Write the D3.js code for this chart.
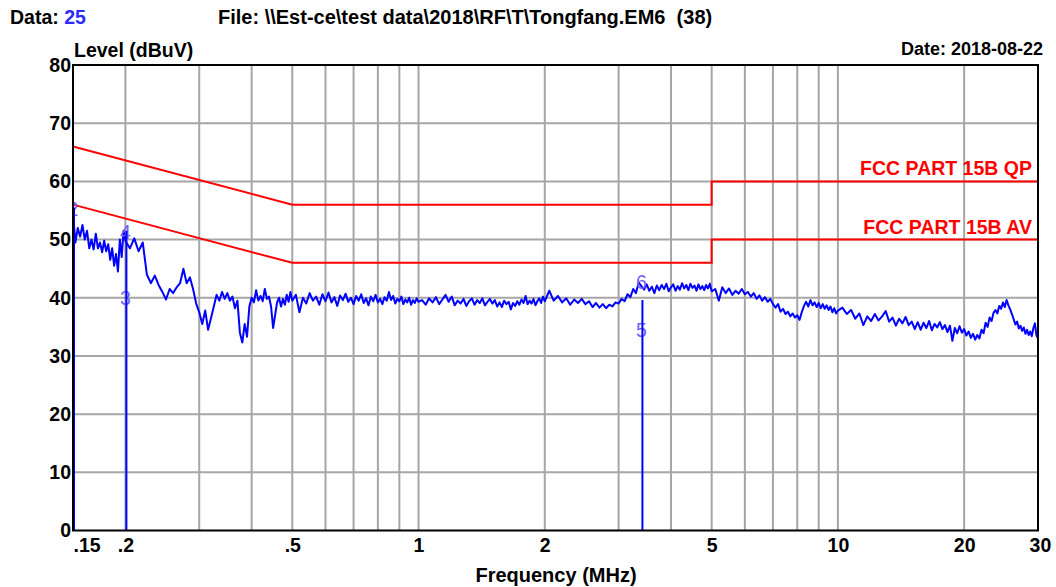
<!DOCTYPE html>
<html lang="en">
<head>
<meta charset="utf-8">
<title>Level (dBuV) vs Frequency (MHz)</title>
<script src="https://cdnjs.cloudflare.com/ajax/libs/d3/7.8.5/d3.min.js"></script>
<style>
  body { margin: 0; background: #fff; }
  text { font-family: "Liberation Sans", Arial, sans-serif; }
</style>
</head>
<body>
<script>
// measured sweep, MHz
var traceFreqs = [
  0.150,0.152,0.154,0.156,0.158,0.160,0.162,0.164,0.166,0.168,0.170,0.172,0.174,0.176,0.178,0.180,0.182,0.184,0.186,0.188,0.190,0.192,0.194,0.196,0.198,
  0.200,0.205,0.210,0.215,0.220,0.225,0.230,0.235,0.240,0.245,0.250,0.255,0.260,0.265,0.270,0.275,0.280,0.285,0.290,0.295,
  0.300,0.305,0.310,0.315,0.320,0.325,0.330,0.335,0.340,0.345,0.350,0.355,0.360,0.365,0.370,0.375,0.380,0.385,0.390,0.395,
  0.400,0.405,0.410,0.415,0.420,0.425,0.430,0.435,0.440,0.445,0.450,0.455,0.460,0.465,0.470,0.475,0.480,0.485,0.490,0.495,
  0.50,0.51,0.52,0.53,0.54,0.55,0.56,0.57,0.58,0.59,0.60,0.61,0.62,0.63,0.64,0.65,0.66,0.67,0.68,0.69,
  0.70,0.71,0.72,0.73,0.74,0.75,0.76,0.77,0.78,0.79,0.80,0.81,0.82,0.83,0.84,0.85,0.86,0.87,0.88,0.89,
  0.90,0.91,0.92,0.93,0.94,0.95,0.96,0.97,0.98,0.99,
  1.00,1.02,1.04,1.06,1.08,1.10,1.12,1.14,1.16,1.18,1.20,1.22,1.24,1.26,1.28,1.30,1.32,1.34,1.36,1.38,
  1.40,1.42,1.44,1.46,1.48,1.50,1.52,1.54,1.56,1.58,1.60,1.62,1.64,1.66,1.68,1.70,1.72,1.74,1.76,1.78,
  1.80,1.82,1.84,1.86,1.88,1.90,1.92,1.94,1.96,1.98,
  2.00,2.05,2.10,2.15,2.20,2.25,2.30,2.35,2.40,2.45,2.50,2.55,2.60,2.65,2.70,2.75,2.80,2.85,2.90,2.95,
  3.00,3.05,3.10,3.15,3.20,3.25,3.30,3.35,3.40,3.45,3.50,3.55,3.60,3.65,3.70,3.75,3.80,3.85,3.90,3.95,
  4.00,4.05,4.10,4.15,4.20,4.25,4.30,4.35,4.40,4.45,4.50,4.55,4.60,4.65,4.70,4.75,4.80,4.85,4.90,4.95,
  5.0,5.1,5.2,5.3,5.4,5.5,5.6,5.7,5.8,5.9,6.0,6.1,6.2,6.3,6.4,6.5,6.6,6.7,6.8,6.9,
  7.0,7.1,7.2,7.3,7.4,7.5,7.6,7.7,7.8,7.9,8.0,8.1,8.2,8.3,8.4,8.5,8.6,8.7,8.8,8.9,
  9.0,9.1,9.2,9.3,9.4,9.5,9.6,9.7,9.8,9.9,
  10.0,10.25,10.5,10.75,11.0,11.25,11.5,11.75,12.0,12.25,12.5,12.75,13.0,13.25,13.5,13.75,
  14.0,14.25,14.5,14.75,15.0,15.25,15.5,15.75,16.0,16.25,16.5,16.75,17.0,17.25,17.5,17.75,
  18.0,18.25,18.5,18.75,19.0,19.25,19.5,19.75,20.0,20.25,20.5,20.75,21.0,21.25,21.5,21.75,
  22.0,22.25,22.5,22.75,23.0,23.25,23.5,23.75,24.0,24.25,24.5,24.75,25.0,25.25,25.5,25.75,
  26.0,26.25,26.5,26.75,27.0,27.25,27.5,27.75,28.0,28.25,28.5,28.75,29.0,29.25,29.5,29.75,30.0
];
// dBuV
var traceLevels = [
  54.5,49.5,52,50.5,52.5,50,51.5,48.5,50,48.3,51,48.5,49.5,47.8,49.8,48,49.2,46.5,48.5,45.5,47.5,44.5,50,47,51.5,
  49.8,48.5,50.2,48,49.5,44,42.5,43.8,42.2,41,39.7,41.5,40.8,41.8,42.5,45,42.5,43.5,41.5,39,
  37.5,35.5,37.8,34.5,36.5,38.5,40.5,39.5,41,39.8,40.8,39.5,40.2,38.2,39.5,34,32.3,35.5,33.3,38.5,
  40,39.2,41.3,39.5,40.3,39.4,41.5,39.8,40.2,38.5,34.8,37,39.2,40,38.5,39.8,38.8,40.5,39.3,41,
  39.5,40.5,37.5,40,39,40.8,39.5,40.2,38.8,40.6,39.4,40.9,39.2,40.1,38.6,40.4,39.6,40.7,39.3,40,
  38.9,40.3,39.5,40.6,39.1,39.9,38.7,40.2,39.4,40.5,39.2,39.8,38.9,40.1,39.5,41,39.6,40.3,39,39.8,
  39.4,40.2,38.9,39.7,39.2,40,38.8,39.6,39.1,39.9,
  39.3,39.6,38.8,39.9,39.2,40.1,38.9,39.7,40.5,39.3,40.2,38.7,39.5,39,39.8,38.6,39.4,39.9,38.8,39.6,
  39.1,39.9,38.7,39.3,39.8,39,39.6,38.5,39.2,38.4,39.5,38.9,39.3,38,39.1,38.6,39.4,38.8,39.7,39.1,
  40.3,38.9,39.5,39,39.8,38.7,39.4,39.9,39.1,40.2,
  39.4,41.2,39.5,40.3,39.2,39.9,38.8,39.7,39.1,39.8,38.9,39.4,38.4,39.1,38.3,38.9,38.2,38.8,38.5,39.2,
  39,39.8,39.4,40.6,40.1,41.5,40.8,42.6,42,41.4,42.3,41.2,41.9,40.8,42.1,41.3,42.2,41.5,42.4,41.1,
  41.8,42.3,41.2,42,41.4,42.5,41.6,42.2,41.3,42.4,41.7,42.1,41.2,42.3,41.5,42,41.3,42.2,41.6,42.4,
  41.1,41.5,39.5,41.8,40.8,41.6,40.5,41.2,40.7,41.5,40.6,41,40.2,40.8,39.8,40.4,39.5,40.1,39.3,39.8,
  38.9,38.3,38.9,37.6,38.1,37.2,37.6,36.8,37.3,36.6,37,36.2,37.5,38.6,39.3,38.5,39.6,38.7,39.2,38.4,
  39.1,38.2,38.9,38.1,38.7,37.9,38.5,37.5,38.2,37.3,
  37.8,38.3,37.2,37.9,36.4,37.3,35.3,36.8,36,37.2,36.1,36.8,37.7,35.9,36.6,35.2,
  36.4,35.6,36.7,35.3,35.9,34.6,35.8,34.5,35.7,34.8,36,34.4,35.5,34.9,35.8,34.6,
  35.3,34.1,35.2,32.6,34.8,33.9,35.1,34,34.6,33.5,34.2,33.1,33.8,32.8,33.6,33,
  34.5,33.9,35.7,35,36.6,36,37.4,37.9,37.3,38.6,38.1,39.2,38.4,39.6,38.7,38,
  37.2,36.3,35.4,35.9,34.7,35.2,34.3,34.9,33.8,34.5,33.6,34.2,33.4,34.8,35.6,33.5,33
];

// FCC part 15B limits
var limitFreqs = [0.15, 0.5, 5, 5, 30];
var limitQP = [66, 56, 56, 60, 60];
var limitAV = [56, 46, 46, 50, 50];
var limitNames = ["FCC PART 15B QP", "FCC PART 15B AV"];

// markers (1 sits under the 0.15 line)
var markerNames = ["2", "3", "4", "5", "6"];
var markerFreqs = [0.15, 0.2, 0.2, 3.4, 3.4];
var markerLevels = [55.3, 40, 51.2, 34.4, 42.7];
var markerLineFreqs = [0.15, 0.2, 3.4];
var markerLineTops = [55.5, 51.5, 39.6];

// axes
var xTickValues = [0.15, 0.2, 0.5, 1, 2, 5, 10, 20, 30];
var xTickLabels = [".15", ".2", ".5", "1", "2", "5", "10", "20", "30"];
var xGrid = [0.2, 0.3, 0.4, 0.5, 0.6, 0.7, 0.8, 0.9, 1, 2, 3, 4, 5, 6, 7, 8, 9, 10, 20];
var yTickValues = [0, 10, 20, 30, 40, 50, 60, 70, 80];

var w = 1056, h = 587;
var padL = 73, padR = 1038, padT = 65, padB = 530.5;
var fs = 19.5;

var svg = d3.select("body").append("svg")
    .attr("width", w)
    .attr("height", h);

svg.append("clipPath").attr("id", "plotclip")
    .append("rect")
    .attr("x", padL).attr("y", padT)
    .attr("width", padR - padL).attr("height", padB - padT);

var x = d3.scaleLog().domain([0.15, 30]).range([padL, padR]);
var y = d3.scaleLinear().domain([0, 80]).range([padB, padT]);

// grid
svg.append("g").selectAll("line").data(xGrid).enter().append("line")
    .attr("x1", function(d) { return x(d); })
    .attr("x2", function(d) { return x(d); })
    .attr("y1", padT).attr("y2", padB)
    .attr("stroke", "#a6a6a6").attr("stroke-width", 2);
svg.append("g").selectAll("line").data(yTickValues.slice(1, -1)).enter().append("line")
    .attr("x1", padL).attr("x2", padR)
    .attr("y1", function(d) { return y(d); })
    .attr("y2", function(d) { return y(d); })
    .attr("stroke", "#a6a6a6").attr("stroke-width", 2);

// limit lines
var limitLine = d3.line()
    .x(function(d) { return x(d[0]); })
    .y(function(d) { return y(d[1]); });
[limitQP, limitAV].forEach(function(lim, i) {
    svg.append("path")
        .datum(d3.zip(limitFreqs, lim))
        .attr("d", limitLine)
        .attr("fill", "none")
        .attr("stroke", "#ff0000")
        .attr("stroke-width", 2);
    svg.append("text")
        .text(limitNames[i])
        .attr("x", padR - 6)
        .attr("y", y(lim[lim.length - 1]) - 6)
        .attr("text-anchor", "end")
        .attr("font-size", fs)
        .attr("font-weight", "bold")
        .attr("fill", "#ff0000");
});

// trace
var traceLine = d3.line()
    .x(function(d) { return x(d[0]); })
    .y(function(d) { return y(d[1]); });
svg.append("path")
    .datum(d3.zip(traceFreqs, traceLevels))
    .attr("d", traceLine)
    .attr("fill", "none")
    .attr("stroke", "#0000ff")
    .attr("stroke-width", 2)
    .attr("stroke-linejoin", "round");

// markers
svg.append("g").attr("clip-path", "url(#plotclip)")
    .selectAll("text").data(markerNames).enter().append("text")
    .text(function(d) { return d; })
    .attr("x", function(d, i) { return x(markerFreqs[i]); })
    .attr("y", function(d, i) { return y(markerLevels[i]); })
    .attr("dy", "0.35em")
    .attr("text-anchor", "middle")
    .attr("font-size", fs)
    .attr("fill", "#6f62f5");
svg.append("g").selectAll("line").data(markerLineFreqs).enter().append("line")
    .attr("x1", function(d) { return x(d) + 1; })
    .attr("x2", function(d) { return x(d) + 1; })
    .attr("y1", padB)
    .attr("y2", function(d, i) { return y(markerLineTops[i]); })
    .attr("stroke", "#0000ff")
    .attr("stroke-width", 2);

// frame
svg.append("rect")
    .attr("x", padL).attr("y", padT)
    .attr("width", padR - padL).attr("height", padB - padT)
    .attr("fill", "none")
    .attr("stroke", "#000")
    .attr("stroke-width", 2);

// axis labels
var xAxis = d3.axisBottom(x)
    .tickValues(xTickValues)
    .tickFormat(function(d, i) { return xTickLabels[i]; })
    .tickSize(0)
    .tickPadding(8);
var gx = svg.append("g")
    .attr("transform", "translate(0," + padB + ")")
    .call(xAxis);
gx.select(".domain").remove();
gx.selectAll("text")
    .attr("font-size", fs)
    .attr("font-weight", "bold")
    .attr("font-family", "Liberation Sans, Arial, sans-serif")
    .attr("fill", "#000")
    .attr("dx", function(d, i) { return i === 0 ? "0.7em" : (i === xTickValues.length - 1 ? "0.1em" : 0); });

var yAxis = d3.axisLeft(y)
    .tickValues(yTickValues)
    .tickSize(0)
    .tickPadding(2);
var gy = svg.append("g")
    .attr("transform", "translate(" + padL + ",0)")
    .call(yAxis);
gy.select(".domain").remove();
gy.selectAll("text")
    .attr("font-size", fs)
    .attr("font-weight", "bold")
    .attr("font-family", "Liberation Sans, Arial, sans-serif")
    .attr("fill", "#000");

// titles
var head = svg.append("text")
    .attr("x", 10).attr("y", 24)
    .attr("font-size", fs).attr("font-weight", "bold");
head.append("tspan").text("Data: ").attr("fill", "#000");
head.append("tspan").text("25").attr("fill", "#2b2bff");

svg.append("text")
    .text("File: \\\\Est-ce\\test data\\2018\\RF\\T\\Tongfang.EM6  (38)")
    .attr("x", 218).attr("y", 24)
    .attr("font-size", 20).attr("font-weight", "bold")
    .style("white-space", "pre");

svg.append("text")
    .text("Level (dBuV)")
    .attr("x", 74).attr("y", 57)
    .attr("font-size", fs).attr("font-weight", "bold");

svg.append("text")
    .text("Date: 2018-08-22")
    .attr("x", 1043).attr("y", 55)
    .attr("text-anchor", "end")
    .attr("font-size", 18).attr("font-weight", "bold");

svg.append("text")
    .text("Frequency (MHz)")
    .attr("x", 556).attr("y", 582)
    .attr("text-anchor", "middle")
    .attr("font-size", 20).attr("font-weight", "bold");
</script>
</body>
</html>
